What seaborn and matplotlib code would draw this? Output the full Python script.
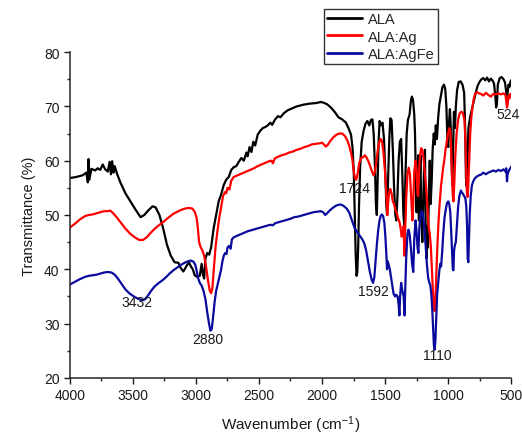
import numpy as np
import pandas as pd
import matplotlib
matplotlib.use("Agg")
import matplotlib.pyplot as plt
import seaborn as sns
from matplotlib.ticker import MultipleLocator

# ---------------- data ----------------
series_names = ["ALA", "ALA:Ag", "ALA:AgFe"]
series_colors = ["#000000", "#ff0000", "#0a0a9e"]

ala_pts = [(4000,56.8),(3950,57.0),(3900,57.3),(3870,57.8),(3858,56.0),(3852,60.3),(3846,56.5),(3830,58.5),(3800,58.2),(3780,58.6),(3760,58.3),(3740,59.3),(3720,58.4),(3700,58.0),(3685,59.8),(3675,57.5),(3665,59.9),(3655,57.8),(3645,59.0),(3625,57.5),(3600,56.0),(3560,54.0),(3520,52.5),(3480,51.0),(3440,49.6),(3410,50.0),(3380,50.8),(3345,51.6),(3320,51.4),(3290,50.0),(3260,47.5),(3230,44.5),(3200,42.5),(3170,41.3),(3140,41.2),(3120,40.2),(3100,39.6),(3085,40.2),(3070,40.8),(3055,41.3),(3040,40.5),(3025,40.0),(3010,38.9),(2990,38.6),(2970,38.8),(2955,41.0),(2945,39.0),(2935,38.3),(2925,42.0),(2910,43.0),(2895,42.7),(2880,44.0),(2860,47.5),(2840,50.0),(2820,52.5),(2800,53.8),(2780,55.5),(2760,56.5),(2740,57.0),(2720,58.3),(2700,58.8),(2680,59.0),(2660,59.8),(2640,60.5),(2620,60.0),(2600,61.5),(2590,60.8),(2575,62.5),(2560,61.6),(2545,63.5),(2530,62.8),(2510,64.8),(2490,65.5),(2470,66.0),(2450,66.2),(2430,66.5),(2410,67.0),(2395,66.6),(2375,67.5),(2350,68.2),(2330,68.0),(2300,68.8),(2270,69.3),(2240,69.6),(2200,70.0),(2150,70.3),(2100,70.5),(2050,70.6),(2010,70.8),(1990,70.7),(1960,70.4),(1930,69.8),(1900,69.0),(1870,68.0),(1840,67.6),(1810,67.0),(1790,66.0),(1770,64.8),(1758,62.5),(1748,58.0),(1740,50.0),(1733,43.0),(1726,38.8),(1720,39.5),(1713,44.0),(1706,52.0),(1697,59.0),(1685,63.5),(1670,65.5),(1655,66.8),(1640,67.3),(1625,66.5),(1612,67.5),(1600,67.6),(1590,65.0),(1580,59.0),(1572,52.0),(1565,50.0),(1558,57.0),(1550,64.0),(1543,67.3),(1533,66.5),(1520,67.0),(1508,64.0),(1498,58.0),(1490,52.0),(1484,50.0),(1476,56.0),(1466,64.0),(1458,67.8),(1448,67.5),(1438,62.0),(1428,55.0),(1418,50.0),(1410,49.0),(1402,53.0),(1392,60.0),(1382,63.5),(1372,64.0),(1362,57.0),(1354,50.0),(1346,48.0),(1338,57.0),(1328,65.0),(1318,67.5),(1305,68.5),(1295,71.0),(1287,71.8),(1278,71.2),(1268,68.5),(1262,65.0),(1256,58.0),(1250,50.5),(1244,55.0),(1237,61.0),(1231,49.0),(1225,56.0),(1219,61.0),(1212,50.0),(1204,45.0),(1197,52.0),(1190,59.0),(1183,62.0),(1177,47.0),(1171,42.0),(1165,48.0),(1159,44.0),(1152,54.0),(1145,60.0),(1138,52.0),(1130,56.0),(1122,62.0),(1113,65.0),(1105,63.0),(1097,66.5),(1088,64.0),(1078,68.0),(1068,70.5),(1056,72.0),(1045,73.5),(1032,74.0),(1022,73.2),(1013,70.0),(1005,64.0),(998,62.5),(992,67.0),(985,69.5),(978,66.0),(972,60.0),(966,55.5),(960,62.0),(953,69.0),(945,66.0),(938,70.0),(928,73.0),(915,74.5),(900,74.6),(885,74.0),(872,72.5),(864,66.0),(858,57.0),(852,55.3),(846,60.0),(838,66.0),(825,68.0),(810,69.5),(795,71.0),(780,72.5),(765,73.8),(750,74.5),(735,75.0),(720,75.2),(705,74.8),(690,75.3),(675,74.6),(660,75.1),(645,74.7),(635,74.2),(625,72.0),(618,69.8),(612,70.5),(605,74.0),(590,75.2),(575,75.4),(560,75.0),(548,74.4),(540,73.0),(533,71.5),(527,72.5),(520,74.0),(512,73.6),(505,74.5),(500,74.8)]

ala_ag_pts = [(4000,47.7),(3960,48.4),(3920,49.2),(3880,49.8),(3850,50.0),(3820,50.1),(3790,50.3),(3760,50.5),(3730,50.7),(3700,50.7),(3680,50.8),(3660,50.4),(3630,49.6),(3600,48.7),(3560,47.5),(3520,46.5),(3480,45.8),(3450,45.4),(3420,45.4),(3390,45.9),(3360,46.7),(3330,47.4),(3300,48.0),(3260,48.7),(3220,49.5),(3180,50.2),(3140,50.7),(3100,51.1),(3060,51.3),(3030,51.2),(3010,50.6),(2995,49.5),(2985,47.5),(2975,45.0),(2965,44.2),(2950,43.5),(2935,42.5),(2920,40.5),(2905,38.0),(2890,36.0),(2880,35.6),(2870,36.5),(2858,40.0),(2845,44.0),(2830,47.0),(2815,49.5),(2800,51.5),(2785,53.5),(2770,54.2),(2760,54.0),(2750,55.0),(2735,54.7),(2720,56.3),(2700,57.0),(2680,57.2),(2650,57.5),(2620,57.8),(2600,58.0),(2570,58.3),(2540,58.6),(2510,59.0),(2480,59.3),(2450,59.6),(2420,59.9),(2400,60.0),(2390,59.5),(2375,60.4),(2350,60.7),(2320,61.0),(2290,61.2),(2260,61.5),(2230,61.7),(2200,62.0),(2170,62.2),(2140,62.5),(2110,62.7),(2080,63.0),(2050,63.1),(2020,63.2),(2000,63.3),(1985,63.0),(1970,62.6),(1955,62.9),(1935,63.6),(1910,64.3),(1885,64.8),(1860,65.0),(1840,65.0),(1820,64.6),(1800,63.8),(1785,62.8),(1770,61.5),(1758,60.0),(1748,58.0),(1738,56.8),(1728,56.5),(1718,57.5),(1705,59.5),(1690,60.5),(1675,60.6),(1660,61.0),(1645,60.5),(1630,59.8),(1615,58.8),(1600,57.8),(1590,57.3),(1580,58.0),(1570,59.5),(1560,61.5),(1548,63.2),(1535,64.0),(1525,63.7),(1512,61.5),(1500,58.0),(1492,55.0),(1486,52.0),(1482,50.0),(1476,52.0),(1468,54.0),(1458,54.8),(1448,54.0),(1438,52.5),(1428,52.0),(1418,51.0),(1408,50.5),(1398,49.5),(1390,49.0),(1383,48.5),(1376,47.5),(1368,46.0),(1360,46.5),(1352,48.0),(1346,42.5),(1340,47.0),(1332,53.0),(1322,57.5),(1312,58.7),(1302,57.5),(1292,53.0),(1283,49.0),(1276,52.0),(1268,58.0),(1258,60.0),(1250,58.5),(1243,54.0),(1237,53.5),(1230,58.0),(1222,61.0),(1213,62.3),(1204,62.0),(1195,60.5),(1185,58.0),(1175,55.5),(1165,52.0),(1155,48.0),(1145,46.5),(1137,44.5),(1128,40.0),(1120,36.0),(1112,33.0),(1106,32.3),(1100,34.5),(1093,39.0),(1085,44.0),(1077,48.0),(1070,51.0),(1062,53.5),(1055,55.5),(1047,57.0),(1040,58.5),(1030,60.0),(1020,62.0),(1010,63.5),(1000,65.0),(990,66.0),(982,65.5),(975,62.0),(968,57.0),(962,53.5),(957,52.5),(950,56.0),(942,61.0),(932,65.0),(920,67.5),(908,68.7),(895,69.0),(882,68.8),(870,67.5),(862,64.0),(856,58.0),(850,54.0),(845,53.3),(840,55.0),(832,60.0),(824,65.0),(815,68.0),(805,70.0),(795,71.5),(785,72.3),(770,72.6),(755,72.4),(740,72.3),(720,72.0),(700,72.5),(680,72.1),(660,71.8),(640,72.3),(620,72.2),(600,72.4),(580,72.2),(560,72.4),(545,72.1),(538,71.0),(532,69.8),(526,70.5),(520,72.0),(512,71.5),(505,72.3),(500,72.0)]

ala_agfe_pts = [(4000,37.2),(3960,37.7),(3920,38.2),(3880,38.6),(3850,38.8),(3820,38.9),(3790,39.0),(3760,39.2),(3730,39.4),(3700,39.5),(3670,39.4),(3645,39.0),(3620,38.3),(3590,37.3),(3560,36.3),(3530,35.6),(3500,35.1),(3470,34.7),(3440,34.4),(3420,34.3),(3400,34.6),(3380,35.2),(3360,35.9),(3330,36.8),(3300,37.4),(3270,37.9),(3240,38.5),(3210,39.2),(3180,39.8),(3150,40.3),(3120,40.8),(3090,41.2),(3060,41.5),(3040,41.6),(3020,41.4),(3005,40.8),(2995,39.8),(2985,38.5),(2970,37.5),(2955,37.0),(2940,36.0),(2925,34.5),(2910,32.0),(2895,29.8),(2885,28.7),(2875,29.0),(2865,31.0),(2852,34.0),(2840,36.0),(2825,37.5),(2810,39.0),(2800,40.0),(2790,41.5),(2778,42.6),(2768,43.0),(2758,42.8),(2750,44.0),(2738,44.3),(2725,43.8),(2715,45.5),(2700,45.9),(2680,46.1),(2650,46.4),(2620,46.7),(2590,47.0),(2560,47.2),(2530,47.4),(2500,47.6),(2470,47.8),(2440,48.0),(2410,48.2),(2390,48.1),(2370,48.5),(2340,48.7),(2310,48.9),(2280,49.1),(2250,49.3),(2220,49.6),(2190,49.7),(2160,49.9),(2130,50.1),(2100,50.3),(2070,50.5),(2040,50.6),(2010,50.7),(1990,50.5),(1975,50.0),(1960,50.3),(1940,50.8),(1915,51.3),(1890,51.7),(1865,51.9),(1845,51.9),(1825,51.6),(1805,51.2),(1785,50.5),(1770,49.5),(1755,48.5),(1740,47.5),(1725,47.0),(1710,46.5),(1695,46.0),(1680,45.5),(1665,44.8),(1650,43.5),(1635,41.5),(1620,39.5),(1605,38.0),(1595,37.5),(1585,38.5),(1575,41.5),(1565,44.5),(1555,47.0),(1545,48.8),(1535,49.8),(1525,50.1),(1515,49.8),(1505,48.5),(1497,46.0),(1490,43.0),(1484,40.0),(1480,41.5),(1472,41.0),(1462,40.0),(1452,38.5),(1442,37.0),(1432,35.5),(1420,35.0),(1410,35.3),(1400,35.0),(1392,33.5),(1386,31.5),(1380,35.0),(1372,37.5),(1362,36.0),(1352,35.0),(1345,31.5),(1340,36.0),(1332,42.0),(1322,46.5),(1314,47.3),(1305,46.5),(1295,44.0),(1285,41.0),(1276,39.5),(1268,45.5),(1258,49.0),(1250,47.0),(1242,44.0),(1235,43.0),(1228,47.5),(1218,50.0),(1208,50.8),(1198,50.0),(1188,47.5),(1178,44.5),(1168,41.0),(1158,38.5),(1148,37.5),(1140,37.0),(1133,35.5),(1126,33.0),(1119,29.5),(1112,26.0),(1106,25.2),(1100,27.0),(1093,31.0),(1086,35.5),(1078,37.6),(1070,39.5),(1062,41.0),(1055,40.5),(1047,43.0),(1038,46.5),(1028,49.5),(1018,51.0),(1008,52.2),(998,52.5),(990,52.0),(982,50.5),(975,47.0),(968,43.0),(962,40.0),(957,39.8),(952,43.5),(945,44.5),(938,45.0),(930,48.0),(920,51.5),(910,53.5),(898,54.5),(885,54.0),(872,53.5),(862,53.0),(855,51.5),(849,48.0),(844,42.0),(839,41.3),(834,45.0),(828,50.0),(820,53.5),(810,55.5),(798,56.3),(785,56.8),(770,57.1),(755,57.3),(740,57.4),(720,57.8),(700,57.5),(680,57.8),(660,58.0),(640,58.2),(620,58.0),(600,58.3),(580,58.1),(560,58.4),(545,58.0),(538,58.6),(532,56.2),(527,57.5),(520,58.0),(512,58.4),(505,58.6),(500,58.9)]

peak_labels = ["3432", "2880", "1724", "1592", "1110", "524"]
peak_label_x = [3468, 2904, 1746, 1595, 1087, 523]
peak_label_y = [33.9, 27.2, 55.0, 36.0, 24.3, 68.6]

x_ticks = [4000, 3500, 3000, 2500, 2000, 1500, 1000, 500]
y_ticks = [20, 30, 40, 50, 60, 70, 80]

# ---------------- build long-form table ----------------
frames = []
for name, pts in zip(series_names, [ala_pts, ala_ag_pts, ala_agfe_pts]):
    arr = np.array(pts, dtype=float)
    frames.append(pd.DataFrame({"wn": arr[:, 0], "T": arr[:, 1], "sample": name}))
df = pd.concat(frames, ignore_index=True)

# ---------------- plot ----------------
sns.set_style("ticks")
plt.rcParams["font.family"] = ["Liberation Sans", "DejaVu Sans"]
plt.rcParams["mathtext.default"] = "regular"

fig = plt.figure(figsize=(5.22, 4.35), dpi=100)
ax = fig.add_axes([0.134, 0.129, 0.845, 0.749])

sns.lineplot(data=df, x="wn", y="T", hue="sample", hue_order=series_names,
             palette=dict(zip(series_names, series_colors)),
             estimator=None, sort=False, linewidth=1.6, ax=ax)

ax.set_xlim(4000, 500)
ax.set_ylim(20, 80)
ax.set_xticks(x_ticks)
ax.set_yticks(y_ticks)
ax.xaxis.set_minor_locator(MultipleLocator(250))
ax.yaxis.set_minor_locator(MultipleLocator(5))
ax.tick_params(which="major", direction="out", length=4, width=1, labelsize=10, colors="#1a1a1a")
ax.tick_params(which="minor", direction="out", length=2.5, width=1)
for s in ["top", "right"]:
    ax.spines[s].set_visible(False)
for s in ["left", "bottom"]:
    ax.spines[s].set_linewidth(1.1)

ax.set_xlabel("Wavenumber (cm$^{-1}$)", fontsize=11, labelpad=8, color="#1a1a1a")
ax.set_ylabel("Transmittance (%)", fontsize=10.5, labelpad=6, color="#1a1a1a")

for lab, lx, ly in zip(peak_labels, peak_label_x, peak_label_y):
    ax.text(lx, ly, lab, ha="center", va="center", fontsize=10, color="#1a1a1a")

handles, labels = ax.get_legend_handles_labels()
ax.legend(handles, labels, loc="upper left", bbox_to_anchor=(0.621, 0.977),
          bbox_transform=fig.transFigure, frameon=True, fancybox=False,
          edgecolor="#333333", framealpha=1, fontsize=10.5, handlelength=2.4,
          borderpad=0.2, labelspacing=0.25, handletextpad=0.4, borderaxespad=0)
ax.get_legend().get_frame().set_linewidth(1.0)
for line in ax.get_legend().get_lines():
    line.set_linewidth(2.0)

fig.savefig("out.png", dpi=100)
